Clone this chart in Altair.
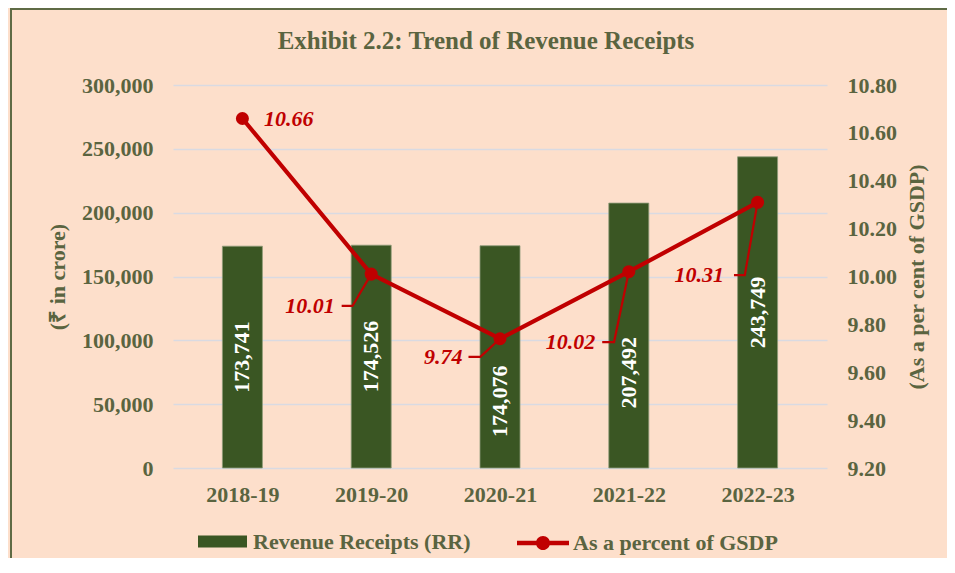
import json
import altair as alt
import pandas as pd

# ---------------- data ----------------
years = ["2018-19", "2019-20", "2020-21", "2021-22", "2022-23"]
revenue_receipts = [173741, 174526, 174076, 207492, 243749]
pct_of_gsdp = [10.66, 10.01, 9.74, 10.02, 10.31]

series_bar = "Revenue Receipts (RR)"
series_line = "As a percent of GSDP"

# ---------------- annotation placement (as in the reference) ----------------
bar_label_frac = [0.5, 0.5, 0.30, 0.36, 0.5]          # label centre as share of bar height
pct_label_y = [10.66, 9.877, 9.664, 9.726, 10.006]    # label level on the GSDP axis
pct_label_dx = [22, -37, -38, -34, -34]               # px from category centre to text edge
pct_label_side = ["left", "right", "right", "right", "right"]
leader_start_dx = [None, -30, -32, -27, -24]
leader_corner_dx = [None, -19, -20, -15, -13]

# ---------------- style ----------------
W, H = 654, 383
STEP = W / len(years)
BG = "#FDDFCB"
GREEN = "#3A5623"
RED = "#C00000"
OLIVE = "#5A6440"
GRID = "#D9DAE2"
FONT = "Liberation Serif"

idx = list(range(len(years)))
df = pd.DataFrame({
    "idx": idx,
    "year": years,
    "rr": revenue_receipts,
    "pct": pct_of_gsdp,
    "frac": bar_label_frac,
    "ly": pct_label_y,
    "ldx": pct_label_dx,
    "side": pct_label_side,
    "s1": series_bar,
    "s2": series_line,
})
df["rr_label"] = [f"{v:,}" for v in revenue_receipts]
df["pct_label"] = [f"{v:.2f}" for v in pct_of_gsdp]

rows = []
for i in idx:
    if leader_start_dx[i] is None:
        continue
    rows.append({"id": i, "o": 0, "x": i + leader_start_dx[i] / STEP, "y": pct_label_y[i]})
    rows.append({"id": i, "o": 1, "x": i + leader_corner_dx[i] / STEP, "y": pct_label_y[i]})
    rows.append({"id": i, "o": 2, "x": i, "y": pct_of_gsdp[i]})
leaders_df = pd.DataFrame(rows)

x_scale = alt.Scale(domain=[-0.5, len(years) - 0.5], nice=False, zero=False)
x_axis = alt.Axis(
    title=None, values=idx, labelExpr=f"{json.dumps(years)}[datum.value]",
    grid=False, ticks=False, tickSize=0, domain=False, labelPadding=16,
    labelFont=FONT, labelFontSize=22, labelFontWeight="bold", labelColor=OLIVE,
)

left_axis = alt.Axis(
    title="(₹ in crore)", values=[0, 50000, 100000, 150000, 200000, 250000, 300000],
    format=",d", grid=True, gridColor=GRID, gridWidth=1.5, ticks=False, tickSize=0,
    domain=False, labelPadding=20, labelFont=FONT, labelFontSize=22,
    labelFontWeight="bold", labelColor=OLIVE, titleFont=FONT, titleFontSize=22,
    titleFontWeight="bold", titleColor=OLIVE, titlePadding=12,
)
right_axis = alt.Axis(
    title="(As a per cent of GSDP)", orient="right",
    values=[9.2, 9.4, 9.6, 9.8, 10.0, 10.2, 10.4, 10.6, 10.8], format=".2f",
    grid=False, ticks=False, tickSize=0, domain=False, labelPadding=20,
    labelFont=FONT, labelFontSize=22, labelFontWeight="bold", labelColor=OLIVE,
    titleFont=FONT, titleFontSize=22, titleFontWeight="bold", titleColor=OLIVE,
    titleAngle=270, titleBaseline="top", titlePadding=10,
)

common_legend = dict(
    title=None, orient="none", labelFont=FONT, labelFontSize=22,
    labelFontWeight="bold", labelColor=OLIVE, labelLimit=400,
)

# chart frame (olive border round the whole exhibit)
frame = alt.Chart(pd.DataFrame({"f": [0]})).mark_rect(
    fill=None, stroke="#5F6B45", strokeWidth=2
).encode(
    x=alt.value(-162), x2=alt.value(W + 200),
    y=alt.value(-76), y2=alt.value(H + 200),
)

bars = alt.Chart(df).mark_bar(
    size=40, orient="vertical", stroke="#8E9A78", strokeWidth=0.8
).encode(
    x=alt.X("idx:Q", scale=x_scale, axis=x_axis),
    y=alt.Y("rr:Q", scale=alt.Scale(domain=[0, 300000], nice=False), axis=left_axis),
    color=alt.Color(
        "s1:N",
        scale=alt.Scale(domain=[series_bar], range=[GREEN]),
        legend=alt.Legend(
            legendX=25, legendY=432, symbolType="M-1,-0.245H1V0.245H-1Z",
            symbolSize=2401, symbolStrokeWidth=0, labelOffset=6, **common_legend
        ),
    ),
)

bar_labels = alt.Chart(df).transform_calculate(
    lab="datum.rr * datum.frac"
).mark_text(
    angle=270, color="white", font=FONT, fontSize=22, fontWeight="bold",
    align="center", baseline="middle",
).encode(
    x=alt.X("idx:Q", axis=x_axis),
    y=alt.Y("lab:Q", axis=left_axis),
    text="rr_label:N",
)

line = alt.Chart(df).mark_line(color=RED, strokeWidth=4.2).encode(
    x=alt.X("idx:Q", axis=x_axis),
    y=alt.Y("pct:Q", scale=alt.Scale(domain=[9.2, 10.8], nice=False, zero=False), axis=right_axis),
)

leaders = alt.Chart(leaders_df).mark_line(color=RED, strokeWidth=2.2).encode(
    x=alt.X("x:Q", axis=x_axis),
    y=alt.Y("y:Q", axis=right_axis),
    detail="id:N",
    order="o:Q",
)

points = alt.Chart(df).mark_circle(size=170, opacity=1).encode(
    x=alt.X("idx:Q", axis=x_axis),
    y=alt.Y("pct:Q", axis=right_axis),
    color=alt.Color(
        "s2:N",
        scale=alt.Scale(domain=[series_line], range=[RED]),
        legend=alt.Legend(
            legendX=344, legendY=432,
            symbolType="M-1,-0.09H1V0.09H-1Z M0.27,0A0.27,0.27 0 1,1 -0.27,0A0.27,0.27 0 1,1 0.27,0Z",
            symbolSize=2704, symbolStrokeWidth=0, labelOffset=4, **common_legend
        ),
    ),
)

label_style = dict(
    baseline="middle", font=FONT, fontSize=22, fontWeight="bold",
    fontStyle="italic", color=RED,
)
labels_left = alt.Chart(df).transform_filter("datum.side == 'left'").transform_calculate(
    lx=f"datum.idx + datum.ldx / {STEP}"
).mark_text(align="left", **label_style).encode(
    x=alt.X("lx:Q", axis=x_axis), y=alt.Y("ly:Q", axis=right_axis), text="pct_label:N"
)
labels_right = alt.Chart(df).transform_filter("datum.side == 'right'").transform_calculate(
    lx=f"datum.idx + datum.ldx / {STEP}"
).mark_text(align="right", **label_style).encode(
    x=alt.X("lx:Q", axis=x_axis), y=alt.Y("ly:Q", axis=right_axis), text="pct_label:N"
)

left = alt.layer(frame, bars, bar_labels)
right = alt.layer(line, leaders, points, labels_left, labels_right)

chart = alt.layer(left, right).resolve_scale(
    y="independent", color="independent"
).properties(
    width=W, height=H,
    title=alt.Title(
        "Exhibit 2.2: Trend of Revenue Receipts", font=FONT, fontSize=25,
        fontWeight="bold", color=OLIVE, anchor="middle", dx=-14, offset=-46,
    ),
    padding={"left": 165, "top": 77, "right": 120, "bottom": 90},
    autosize=alt.AutoSizeParams(type="none"),
    background=BG,
).configure_view(stroke=None)

chart.save("out.html", embed_options={"renderer": "svg", "actions": False})
